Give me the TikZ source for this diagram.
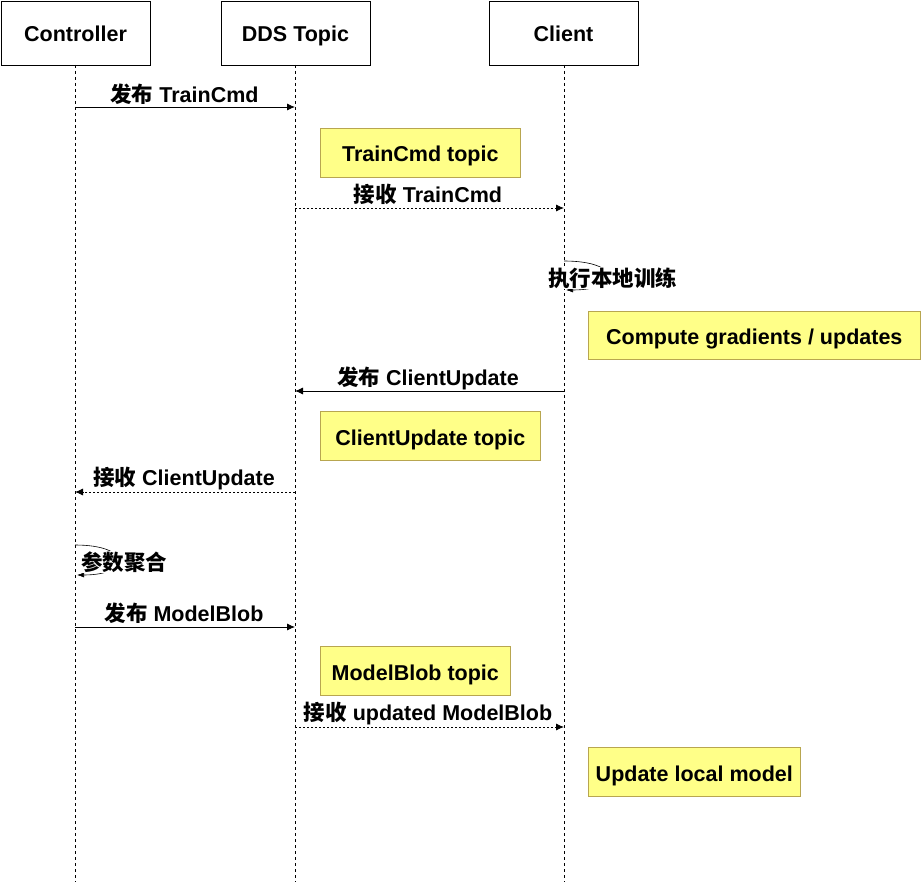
\documentclass[tikz,border=0pt]{standalone}
\usepackage{fontspec}
\setmainfont{Liberation Sans}
\newfontfamily\cjk{Noto Sans CJK SC}
\usetikzlibrary{arrows.meta}
\definecolor{notefill}{HTML}{FFFF88}
\definecolor{noteline}{HTML}{B8A650}
\tikzset{
  actor/.style={draw=black, line width=0.8pt, minimum width=149pt, minimum height=64pt, font=\fontsize{21.5}{26}\selectfont\bfseries, inner sep=0pt, text height=16.6pt, text depth=0pt},
  note/.style={draw=noteline, fill=notefill, line width=0.6pt, anchor=north west, inner sep=0pt, font=\fontsize{21.5}{26}\selectfont\bfseries, text height=18.4pt, text depth=0pt},
  lifeline/.style={line width=0.8pt, dash pattern=on 3pt off 3pt},
  msg/.style={line width=0.8pt, -{Latex[length=8pt,width=7pt]}},
  rmsg/.style={line width=0.8pt, dash pattern=on 2pt off 2pt, -{Latex[length=8pt,width=7pt]}},
  loop/.style={line width=0.6pt, -{Latex[length=7pt,width=5pt]}},
  lbl/.style={font=\fontsize{21.5}{26}\selectfont\bfseries, inner sep=0pt},
  looplbl/.style={font=\fontsize{21.5}{26}\selectfont\bfseries, inner sep=1pt, fill=white},
}
\begin{document}
\begin{tikzpicture}[x=1pt,y=-1pt]
\useasboundingbox (0,0) rectangle (921,882);
% actors
\node[actor] (ctrl) at (75.5,33) {Controller};
\node[actor] (dds) at (295.5,33) {DDS Topic};
\node[actor] (cli) at (563.5,33) {Client};
% lifeline ends
\coordinate (ctrlend) at (75,882);
\coordinate (ddsend) at (295,882);
\coordinate (cliend) at (564,882);
\draw[lifeline] (75,65) -- (ctrlend);
\draw[lifeline] (295,65) -- (ddsend);
\draw[lifeline] (564,65) -- (cliend);
% points on lifelines
\coordinate (c1) at (75,107);  \coordinate (d1) at (295,107);
\coordinate (d2) at (295,208); \coordinate (k2) at (564,208);
\coordinate (k3a) at (564,261); \coordinate (k3b) at (566,290);
\coordinate (k4) at (564,391); \coordinate (d4) at (295,391);
\coordinate (d5) at (295,492); \coordinate (c5) at (75,492);
\coordinate (c6a) at (75,545); \coordinate (c6b) at (77,575);
\coordinate (c7) at (75,627);  \coordinate (d7) at (295,627);
\coordinate (d8) at (295,727); \coordinate (k8) at (564,727);
% messages
\draw[msg] (c1) -- (d1);
\node[lbl] (l1) at (184.5,94.5) {{\cjk\bfseries 发布} TrainCmd};
\node[note, minimum width=200pt, minimum height=49pt] (n1) at (320,128) {TrainCmd topic};
\draw[rmsg] (d2) -- (k2);
\node[lbl] (l2) at (428,194.5) {{\cjk\bfseries 接收} TrainCmd};
\draw[loop] (k3a) .. controls (622,261) and (622,290) .. (k3b);
\node[looplbl] (l3) at (612.5,278) {\cjk\bfseries 执行本地训练};
\node[note, minimum width=332pt, minimum height=48pt] (n2) at (588,311) {Compute gradients / updates};
\draw[msg] (k4) -- (d4);
\node[lbl] (l4) at (428,378) {{\cjk\bfseries 发布} ClientUpdate};
\node[note, minimum width=220pt, minimum height=49pt] (n3) at (320,411) {ClientUpdate topic};
\draw[rmsg] (d5) -- (c5);
\node[lbl] (l5) at (184,479) {{\cjk\bfseries 接收} ClientUpdate};
\draw[loop] (c6a) .. controls (132,545) and (132,575) .. (c6b);
\node[looplbl] (l6) at (124,562) {\cjk\bfseries 参数聚合};
\draw[msg] (c7) -- (d7);
\node[lbl] (l7) at (184,613) {{\cjk\bfseries 发布} ModelBlob};
\node[note, minimum width=190pt, minimum height=49pt] (n4) at (320,646) {ModelBlob topic};
\draw[rmsg] (d8) -- (k8);
\node[lbl] (l8) at (428,714) {{\cjk\bfseries 接收} updated ModelBlob};
\node[note, minimum width=212pt, minimum height=49pt] (n5) at (588,747) {Update local model};
\end{tikzpicture}
\end{document}
